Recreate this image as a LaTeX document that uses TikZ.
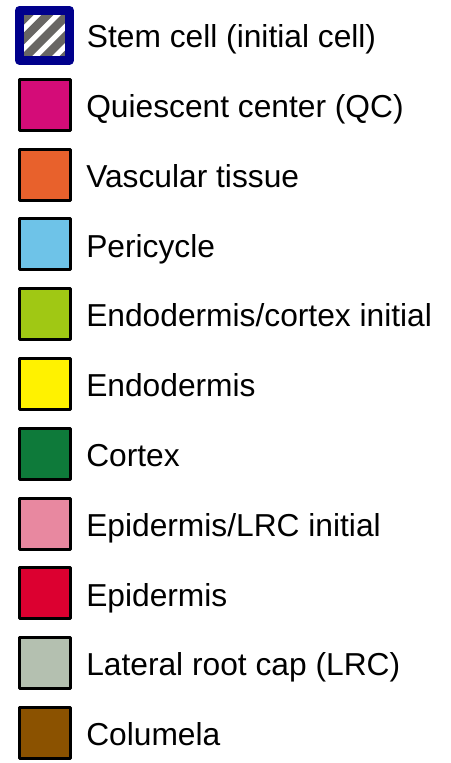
\documentclass[tikz,border=0pt]{standalone}
\usepackage{fontspec}
\setmainfont{Liberation Sans}
\usepackage{xcolor}
\usetikzlibrary{positioning,calc}

\definecolor{stemblue}{RGB}{0,0,140}
\definecolor{hatchgray}{RGB}{104,102,100}
\definecolor{qcmagenta}{RGB}{212,12,120}
\definecolor{vascorange}{RGB}{232,97,44}
\definecolor{pericblue}{RGB}{110,195,232}
\definecolor{endocortgreen}{RGB}{160,200,20}
\definecolor{endoyellow}{RGB}{255,242,0}
\definecolor{cortgreen}{RGB}{14,122,58}
\definecolor{epilrcpink}{RGB}{232,136,160}
\definecolor{epired}{RGB}{220,0,48}
\definecolor{lrcgray}{RGB}{180,192,176}
\definecolor{colbrown}{RGB}{139,82,0}

\begin{document}
\begin{tikzpicture}[
    x=0.75pt, y=-0.75pt,
    cellbox/.style={rectangle, draw=black, line width=2.25pt, line join=round, minimum size=38.25pt, inner sep=0pt},
    stembox/.style={rectangle, draw=stemblue, fill=white, line width=6.75pt, line join=round, minimum size=37.5pt, inner sep=0pt},
    hatch/.style={hatchgray, line width=6.4pt},
    legend/.style={font=\fontsize{23.8pt}{28pt}\selectfont, inner sep=0pt, text height=23.2pt, text depth=4.3pt}
]
\useasboundingbox (0,0) rectangle (450,763);

% Stem cell box with hatching
\node[stembox, path picture={
    \foreach \c in {12.7,32.5,52.3,72.1,91.9}
        \draw[hatch] ($(path picture bounding box.north west)+(\c+40,-40)$) -- ($(path picture bounding box.north west)+(\c-60,60)$);
}] (stem) at (44.5,35.3) {};

% Colour boxes
\node[cellbox, fill=qcmagenta] (qc) at (45,104.8) {};
\node[cellbox, fill=vascorange] (vascular) at (45,174.6) {};
\node[cellbox, fill=pericblue] (pericycle) at (45,244.4) {};
\node[cellbox, fill=endocortgreen] (endocortex) at (45,314.2) {};
\node[cellbox, fill=endoyellow] (endodermis) at (45,384) {};
\node[cellbox, fill=cortgreen] (cortex) at (45,453.8) {};
\node[cellbox, fill=epilrcpink] (epilrc) at (45,523.6) {};
\node[cellbox, fill=epired] (epidermis) at (45,593.4) {};
\node[cellbox, fill=lrcgray] (lrc) at (45,663.2) {};
\node[cellbox, fill=colbrown] (columela) at (45,733) {};

% Labels
\node[legend, right=9.5pt of stem] (stemtext) {Stem cell (initial cell)};
\node[legend, right=10.5pt of qc] (qctext) {Quiescent center (QC)};
\node[legend, right=10.5pt of vascular] (vasculartext) {Vascular tissue};
\node[legend, right=10.5pt of pericycle] (pericycletext) {Pericycle};
\node[legend, right=10.5pt of endocortex] (endocortextext) {Endodermis/cortex initial};
\node[legend, right=10.5pt of endodermis] (endodermistext) {Endodermis};
\node[legend, right=10.5pt of cortex] (cortextext) {Cortex};
\node[legend, right=10.5pt of epilrc] (epilrctext) {Epidermis/LRC initial};
\node[legend, right=10.5pt of epidermis] (epidermistext) {Epidermis};
\node[legend, right=10.5pt of lrc] (lrctext) {Lateral root cap (LRC)};
\node[legend, right=10.5pt of columela] (columelatext) {Columela};

\end{tikzpicture}
\end{document}
